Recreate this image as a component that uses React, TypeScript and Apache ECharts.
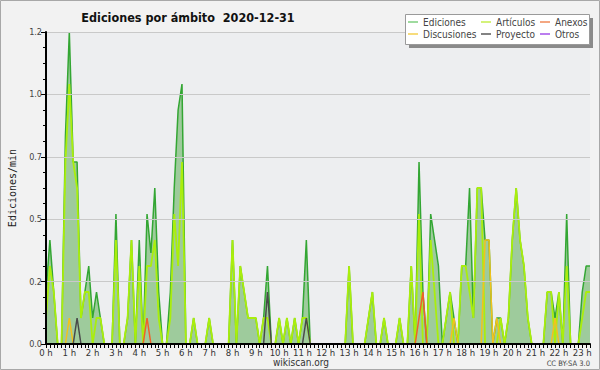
import React, { useEffect, useRef } from "react";
import * as echarts from "echarts";

// 10-minute steps shown in the chart (0:00 .. 23:20)
const hourLabels = [
  "0 h", "1 h", "2 h", "3 h", "4 h", "5 h", "6 h", "7 h", "8 h", "9 h", "10 h", "11 h",
  "12 h", "13 h", "14 h", "15 h", "16 h", "17 h", "18 h", "19 h", "20 h", "21 h", "22 h", "23 h",
];

const ediciones = [
  0.2, 0.4, 0.2, 0, 0, 0.8, 1.2, 0.7, 0.7, 0.1,
  0.2, 0.3, 0.1, 0.2, 0.1, 0, 0, 0, 0.5, 0,
  0, 0.1, 0.4, 0, 0.4, 0, 0.5, 0.35, 0.6, 0.2,
  0, 0, 0.2, 0.6, 0.9, 1.0, 0, 0, 0.1, 0,
  0, 0, 0.1, 0, 0, 0, 0, 0, 0.4, 0,
  0.3, 0.2, 0.1, 0.1, 0.1, 0, 0.1, 0.3, 0, 0,
  0.1, 0, 0.1, 0, 0.1, 0, 0.1, 0.4, 0, 0,
  0, 0, 0, 0, 0, 0, 0, 0, 0.3, 0,
  0, 0, 0, 0.1, 0.2, 0, 0, 0.1, 0, 0,
  0, 0.1, 0, 0, 0.3, 0, 0.7, 0.2, 0, 0.5,
  0.4, 0.3, 0, 0.1, 0.2, 0.1, 0, 0.3, 0.3, 0.6,
  0.1, 0.6, 0.6, 0.4, 0.4, 0, 0.1, 0.1, 0, 0.1,
  0.4, 0.6, 0.4, 0.3, 0.1, 0, 0, 0, 0, 0.2,
  0.2, 0.1, 0.2, 0, 0.5, 0, 0, 0, 0.2, 0.3,
  0.3,
];

const articulos = [
  0.1, 0.3, 0.2, 0, 0, 0.7, 1.0, 0.7, 0.6, 0.1,
  0.2, 0.2, 0, 0.1, 0.1, 0, 0, 0, 0.4, 0,
  0, 0.1, 0.4, 0, 0.3, 0, 0.3, 0.3, 0.4, 0.1,
  0, 0, 0.1, 0.5, 0.3, 0.7, 0, 0, 0.1, 0,
  0, 0, 0.1, 0, 0, 0, 0, 0, 0.4, 0,
  0.3, 0.2, 0.1, 0.1, 0.1, 0, 0.1, 0.1, 0, 0,
  0.1, 0, 0.1, 0, 0.1, 0, 0.1, 0.1, 0, 0,
  0, 0, 0, 0, 0, 0, 0, 0, 0.3, 0,
  0, 0, 0, 0.1, 0.2, 0, 0, 0.1, 0, 0,
  0, 0.1, 0, 0, 0.3, 0, 0.5, 0, 0, 0.4,
  0.2, 0, 0, 0.1, 0.2, 0, 0, 0.3, 0.3, 0.2,
  0.1, 0.6, 0.6, 0, 0, 0, 0, 0.1, 0, 0.1,
  0.4, 0.6, 0.4, 0.3, 0.1, 0, 0, 0, 0, 0.2,
  0.2, 0, 0.2, 0, 0.3, 0, 0, 0, 0.1, 0.2,
  0.2,
];

const anexos = [
  0, 0, 0, 0, 0, 0, 0, 0, 0, 0,
  0, 0, 0, 0, 0, 0, 0, 0, 0, 0,
  0, 0, 0, 0, 0, 0, 0.1, 0, 0, 0,
  0, 0, 0, 0, 0, 0, 0, 0, 0, 0,
  0, 0, 0, 0, 0, 0, 0, 0, 0, 0,
  0, 0, 0, 0, 0, 0, 0, 0, 0, 0,
  0, 0, 0, 0, 0, 0, 0, 0, 0, 0,
  0, 0, 0, 0, 0, 0, 0, 0, 0, 0,
  0, 0, 0, 0, 0, 0, 0, 0, 0, 0,
  0, 0, 0, 0, 0, 0, 0.1, 0.2, 0, 0,
  0, 0, 0, 0, 0, 0, 0, 0, 0, 0,
  0, 0, 0, 0, 0, 0, 0, 0, 0, 0,
  0, 0, 0, 0, 0, 0, 0, 0, 0, 0,
  0, 0, 0, 0, 0, 0, 0, 0, 0, 0,
  0,
];

const discusiones = [
  0, 0, 0, 0, 0, 0, 0.1, 0, 0, 0,
  0, 0, 0, 0, 0, 0, 0, 0, 0, 0,
  0, 0, 0, 0, 0, 0, 0, 0, 0, 0,
  0, 0, 0, 0, 0, 0, 0, 0, 0, 0,
  0, 0, 0, 0, 0, 0, 0, 0, 0, 0,
  0, 0, 0, 0, 0, 0, 0, 0, 0, 0,
  0, 0, 0, 0, 0, 0, 0, 0, 0, 0,
  0, 0, 0, 0, 0, 0, 0, 0, 0, 0,
  0, 0, 0, 0, 0, 0, 0, 0, 0, 0,
  0, 0, 0, 0, 0, 0, 0, 0, 0, 0,
  0, 0, 0, 0, 0, 0.1, 0, 0, 0, 0,
  0, 0, 0, 0.4, 0.4, 0, 0.1, 0, 0, 0,
  0, 0, 0, 0, 0, 0, 0, 0, 0, 0,
  0, 0.1, 0, 0, 0, 0, 0, 0, 0, 0,
  0,
];

const proyecto = [
  0, 0, 0, 0, 0, 0, 0, 0, 0.1, 0,
  0, 0, 0, 0, 0, 0, 0, 0, 0, 0,
  0, 0, 0, 0, 0, 0, 0, 0, 0, 0,
  0, 0, 0, 0, 0, 0, 0, 0, 0, 0,
  0, 0, 0, 0, 0, 0, 0, 0, 0, 0,
  0, 0, 0, 0, 0, 0, 0, 0.2, 0, 0,
  0, 0, 0, 0, 0, 0, 0, 0.1, 0, 0,
  0, 0, 0, 0, 0, 0, 0, 0, 0, 0,
  0, 0, 0, 0, 0, 0, 0, 0, 0, 0,
  0, 0, 0, 0, 0, 0, 0, 0, 0, 0,
  0, 0, 0, 0, 0, 0, 0, 0, 0, 0,
  0, 0, 0, 0, 0, 0, 0, 0, 0, 0,
  0, 0, 0, 0, 0, 0, 0, 0, 0, 0,
  0, 0, 0, 0, 0, 0, 0, 0, 0, 0,
  0,
];

const otros = [
  0, 0, 0, 0, 0, 0, 0, 0, 0, 0,
  0, 0, 0, 0, 0, 0, 0, 0, 0, 0,
  0, 0, 0, 0, 0, 0, 0, 0, 0, 0,
  0, 0, 0, 0, 0, 0, 0, 0, 0, 0,
  0, 0, 0, 0, 0, 0, 0, 0, 0, 0,
  0, 0, 0, 0, 0, 0, 0, 0, 0, 0,
  0, 0, 0, 0, 0, 0, 0, 0, 0, 0,
  0, 0, 0, 0, 0, 0, 0, 0, 0, 0,
  0, 0, 0, 0, 0, 0, 0, 0, 0, 0,
  0, 0, 0, 0, 0, 0, 0, 0, 0, 0,
  0, 0, 0, 0, 0, 0, 0, 0, 0, 0,
  0, 0, 0, 0, 0, 0, 0, 0, 0, 0,
  0, 0, 0, 0, 0, 0, 0, 0, 0, 0,
  0, 0, 0, 0, 0, 0, 0, 0, 0, 0,
  0,
];

const categories: string[] = [];
for (let i = 0; i < ediciones.length; i++) {
  const h = Math.floor(i / 6);
  const m = (i % 6) * 10;
  categories.push(`${h}:${m === 0 ? "00" : m}`);
}

const COND = "'DejaVu Sans Condensed', 'DejaVu Sans', sans-serif";

const C = {
  ed: "#33a633",
  edArea: "#9ecb9c",
  art: "#aaee0c",
  anx: "#f0602a",
  dis: "#f2c21c",
  pro: "#4a4a4a",
  otr: "#9a36e0",
};

const legendItems = [
  { name: "Ediciones", color: "#7fcf7f", col: 0, row: 0 },
  { name: "Artículos", color: "#c6ee4e", col: 1, row: 0 },
  { name: "Anexos", color: "#f08a58", col: 2, row: 0 },
  { name: "Discusiones", color: "#f4d050", col: 0, row: 1 },
  { name: "Proyecto", color: "#5a5a5a", col: 1, row: 1 },
  { name: "Otros", color: "#a453ea", col: 2, row: 1 },
];

export default function App() {
  const ref = useRef<HTMLDivElement>(null);
  useEffect(() => {
    if (!ref.current) return;
    const chart = echarts.init(ref.current, null, { renderer: "svg" });

    const colX = [408, 481, 540];
    const rowY = [22, 34];
    const legendGraphics: any[] = [
      { type: "rect", shape: { x: 409, y: 18, width: 184, height: 30 }, style: { fill: "#8a8a8a" }, z: 100 },
      { type: "rect", shape: { x: 405.5, y: 14.5, width: 184, height: 30 }, style: { fill: "#ffffff", stroke: "#9a9a9a", lineWidth: 1 }, z: 101 },
    ];
    legendItems.forEach((it) => {
      const x = colX[it.col];
      const y = rowY[it.row];
      legendGraphics.push({
        type: "line",
        shape: { x1: x, y1: y, x2: x + 10, y2: y },
        style: { stroke: it.color, lineWidth: 1.5 },
        z: 102,
      });
      legendGraphics.push({
        type: "text",
        x: x + 15,
        y,
        style: { text: it.name, fill: "#444", font: `10px ${COND}`, align: "left", verticalAlign: "middle" },
        z: 102,
      });
    });

    const lineSeries = (name: string, data: number[], color: string, width: number, extra: any = {}) => ({
      name,
      type: "line",
      data,
      symbol: "none",
      lineStyle: { color, width },
      itemStyle: { color },
      ...extra,
    });

    chart.setOption({
      animation: false,
      backgroundColor: "#f2f2f2",
      grid: { left: 46, right: 10, top: 32, bottom: 26, show: true, backgroundColor: "#edeef0", borderWidth: 0 },
      xAxis: {
        type: "category",
        data: categories,
        boundaryGap: false,
        z: 10,
        axisLine: { lineStyle: { color: "#000", width: 2 } },
        axisTick: { show: true, interval: 0, length: 4, lineStyle: { color: "#000", width: 1 } },
        axisLabel: {
          interval: 5,
          margin: 3,
          fontSize: 9.5,
          fontFamily: COND,
          color: "#333",
          formatter: (_v: string, idx: number) => (idx % 6 === 0 ? hourLabels[idx / 6] : ""),
        },
        splitLine: { show: false },
      },
      yAxis: {
        type: "value",
        min: 0,
        max: 1.2,
        interval: 0.24,
        z: 10,
        axisLine: { show: true, lineStyle: { color: "#000", width: 2 } },
        axisTick: { show: true, length: 5, lineStyle: { color: "#000" } },
        minorTick: { show: true, splitNumber: 4, length: 3, lineStyle: { color: "#000" } },
        axisLabel: {
          fontSize: 9,
          fontFamily: COND,
          color: "#444",
          margin: 4,
          formatter: (v: number) => v.toFixed(1),
        },
        splitLine: { show: true, lineStyle: { color: "#c9c9c9", width: 1 } },
      },
      series: [
        lineSeries("Ediciones", ediciones, C.ed, 1.5, { areaStyle: { color: C.edArea, opacity: 1 } }),
        lineSeries("Artículos", articulos, C.art, 1.8),
        lineSeries("Anexos", anexos, C.anx, 1.5),
        lineSeries("Discusiones", discusiones, C.dis, 1.5),
        lineSeries("Proyecto", proyecto, C.pro, 1.5),
        lineSeries("Otros", otros, C.otr, 1.5),
      ],
      graphic: [
        { type: "rect", shape: { x: 0.5, y: 0.5, width: 599, height: 369 }, style: { fill: "none", stroke: "#a8a8a8", lineWidth: 1 }, z: 100 },
        {
          type: "text",
          x: 188,
          y: 17,
          style: { text: "Ediciones por ámbito  2020-12-31", fill: "#111", font: `bold 12.5px ${COND}`, align: "center", verticalAlign: "middle" },
          z: 100,
        },
        {
          type: "text",
          x: 12,
          y: 188,
          rotation: Math.PI / 2,
          style: { text: "Ediciones/min", fill: "#222", font: "10px 'DejaVu Sans Mono', monospace", align: "center", verticalAlign: "middle" },
          z: 100,
        },
        {
          type: "text",
          x: 301,
          y: 362,
          style: { text: "wikiscan.org", fill: "#333", font: `10px ${COND}`, align: "center", verticalAlign: "middle" },
          z: 100,
        },
        {
          type: "text",
          x: 590,
          y: 363,
          style: { text: "CC BY-SA 3.0", fill: "#444", font: `7.5px ${COND}`, align: "right", verticalAlign: "middle" },
          z: 100,
        },
        ...legendGraphics,
      ],
    });
    return () => chart.dispose();
  }, []);
  return <div ref={ref} style={{ position: "fixed", left: 0, top: 0, width: 600, height: 370 }} />;
}
